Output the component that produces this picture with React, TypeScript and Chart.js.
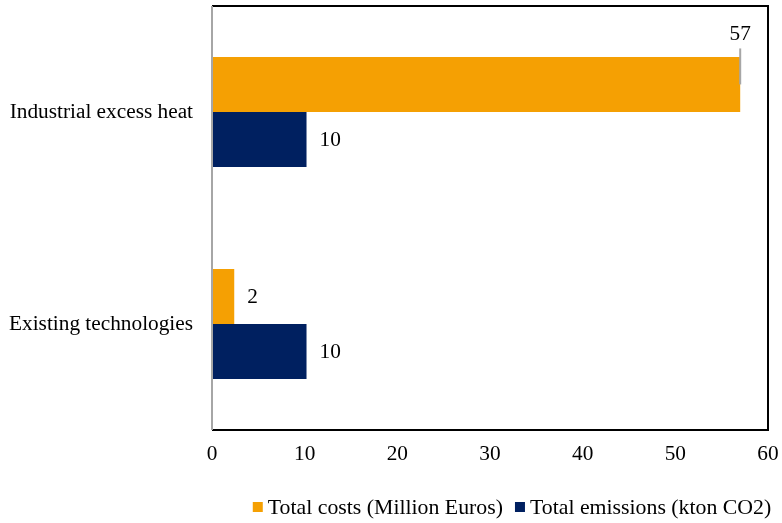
import React, { useEffect, useRef } from "react";
import { Chart, registerables } from "chart.js";

Chart.register(...registerables);

const categories = ["Industrial excess heat", "Existing technologies"];
const costValues = [57, 2.4];
const emissionValues = [10.2, 10.2];
const xTicks = [0, 10, 20, 30, 40, 50, 60];
const seriesNames = ["Total costs (Million Euros)", "Total emissions (kton CO2)"];
const seriesColors = ["#F5A003", "#002060"];

const FONT = "'Liberation Serif', 'Times New Roman', serif";
const FS = 21.3;
const LEGEND_FS = 21.8;

const framePlugin = {
  id: "frame",
  afterDatasetsDraw(chart: any) {
    const { ctx, chartArea } = chart;
    const { left, right, top, bottom } = chartArea;
    ctx.save();
    ctx.strokeStyle = "#000";
    ctx.lineWidth = 2;
    ctx.beginPath();
    ctx.moveTo(left, top);
    ctx.lineTo(right, top);
    ctx.lineTo(right, bottom);
    ctx.lineTo(left, bottom);
    ctx.stroke();
    ctx.strokeStyle = "#a6a6a6";
    ctx.lineWidth = 2;
    ctx.beginPath();
    ctx.moveTo(left, top);
    ctx.lineTo(left, bottom);
    ctx.stroke();
    ctx.restore();
  },
};

const labelPlugin = {
  id: "barLabels",
  afterDatasetsDraw(chart: any) {
    const { ctx } = chart;
    ctx.save();
    ctx.font = `${FS}px ${FONT}`;
    ctx.fillStyle = "#000";
    chart.data.datasets.forEach((ds: any, di: number) => {
      const meta = chart.getDatasetMeta(di);
      meta.data.forEach((bar: any, i: number) => {
        const v = ds.data[i];
        const text = String(Math.round(v));
        if (v > 50) {
          ctx.strokeStyle = "#a6a6a6";
          ctx.lineWidth = 2;
          ctx.beginPath();
          ctx.moveTo(bar.x, bar.y - 36);
          ctx.lineTo(bar.x, bar.y);
          ctx.stroke();
          ctx.textAlign = "center";
          ctx.textBaseline = "middle";
          ctx.fillText(text, bar.x, bar.y - 50);
        } else {
          ctx.textAlign = "left";
          ctx.textBaseline = "middle";
          ctx.fillText(text, bar.x + 13, bar.y + 1);
        }
      });
    });
    ctx.restore();
  },
};

const legendPlugin = {
  id: "customLegend",
  afterDraw(chart: any) {
    const { ctx } = chart;
    ctx.save();
    ctx.font = `${LEGEND_FS}px ${FONT}`;
    ctx.textBaseline = "middle";
    ctx.textAlign = "left";
    const box = 10;
    const gapBox = 5;
    const gapItem = 12;
    const widths = seriesNames.map((n) => ctx.measureText(n).width);
    const total = widths.reduce((a, w) => a + box + gapBox + w, 0) + gapItem * (seriesNames.length - 1);
    let x = 512 - total / 2;
    const cy = 507;
    seriesNames.forEach((name, i) => {
      ctx.fillStyle = chart.data.datasets[i].backgroundColor;
      ctx.fillRect(x, cy - box / 2, box, box);
      x += box + gapBox;
      ctx.fillStyle = "#000";
      ctx.fillText(name, x, cy + 1);
      x += widths[i] + gapItem;
    });
    ctx.restore();
  },
};

export default function App() {
  const ref = useRef<HTMLCanvasElement>(null);
  useEffect(() => {
    const chart = new Chart(ref.current!, {
      type: "bar",
      data: {
        labels: categories,
        datasets: [
          {
            label: seriesNames[0],
            data: costValues,
            backgroundColor: seriesColors[0],
            categoryPercentage: 0.52,
            barPercentage: 1,
          },
          {
            label: seriesNames[1],
            data: emissionValues,
            backgroundColor: seriesColors[1],
            categoryPercentage: 0.52,
            barPercentage: 1,
          },
        ],
      },
      options: {
        indexAxis: "y",
        animation: false,
        responsive: false,
        layout: { padding: { top: 6, right: 14, left: 0, bottom: 47 } },
        scales: {
          x: {
            min: 0,
            max: 60,
            afterBuildTicks(scale: any) {
              scale.ticks = xTicks.map((v) => ({ value: v }));
            },
            grid: { display: false, drawTicks: false },
            border: { display: false },
            ticks: { padding: 12, color: "#000", font: { family: FONT, size: FS } },
            afterFit(scale: any) {
              scale.height = 46;
              scale.paddingLeft = 0;
              scale.paddingRight = 0;
            },
          },
          y: {
            grid: { display: false, drawTicks: false },
            border: { display: false },
            ticks: { padding: 19, color: "#000", font: { family: FONT, size: FS } },
            afterFit(scale: any) {
              scale.width = 212;
              scale.paddingTop = 0;
              scale.paddingBottom = 0;
            },
          },
        },
        plugins: {
          legend: { display: false },
          tooltip: { enabled: false },
        },
      },
      plugins: [framePlugin, labelPlugin, legendPlugin],
    } as any);
    return () => chart.destroy();
  }, []);
  return (
    <div style={{ position: "fixed", left: 0, top: 0, width: 782, height: 523, background: "#fff" }}>
      <canvas ref={ref} width={782} height={523} />
    </div>
  );
}
